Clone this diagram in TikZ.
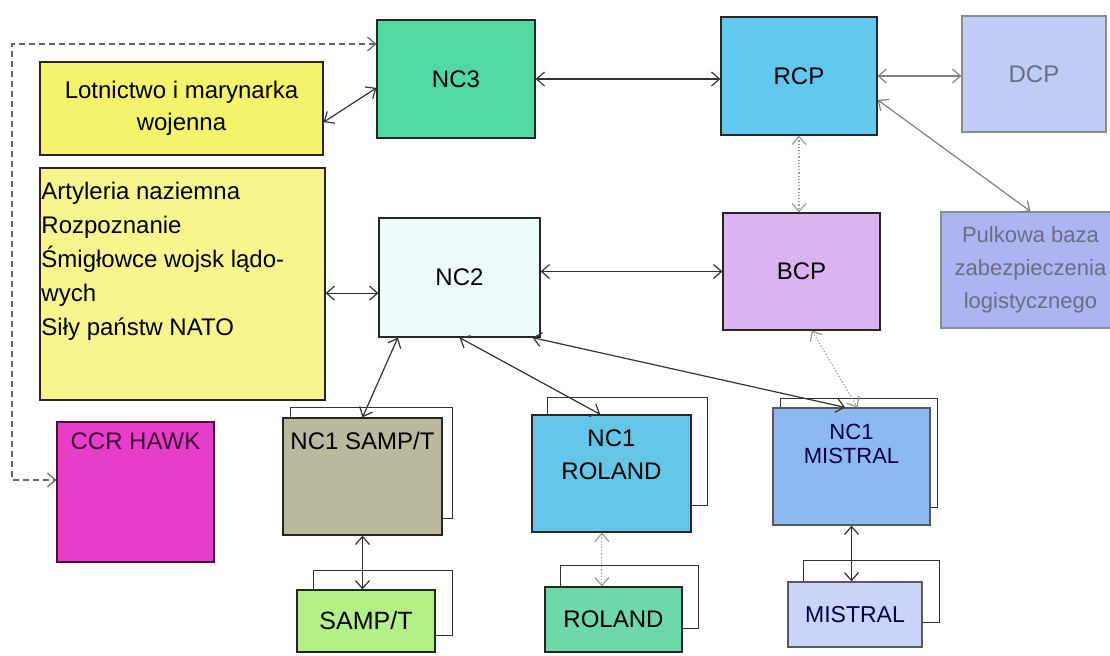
\documentclass[tikz,border=0pt]{standalone}
\usepackage{fontspec}
\setmainfont{Liberation Sans}
\usetikzlibrary{calc,arrows.meta}

\definecolor{lotfill}{HTML}{F5F26C}
\definecolor{artfill}{HTML}{F8F48E}
\definecolor{ncthree}{HTML}{52D8A2}
\definecolor{rcpfill}{HTML}{62C8F0}
\definecolor{dcpfill}{HTML}{BFCDF6}
\definecolor{pulkfill}{HTML}{AAB5F2}
\definecolor{bcpfill}{HTML}{D9B3F2}
\definecolor{nctwo}{HTML}{EEFBFD}
\definecolor{hawkfill}{HTML}{E63DCB}
\definecolor{sampfill}{HTML}{BAB99D}
\definecolor{rolfill}{HTML}{64C6E6}
\definecolor{misfill}{HTML}{8EB9F0}
\definecolor{sampbot}{HTML}{B3F088}
\definecolor{rolbot}{HTML}{6DD8A9}
\definecolor{misbot}{HTML}{CAD4F8}
\definecolor{fadetext}{HTML}{6C6C82}

\begin{document}
\begin{tikzpicture}[x=0.5pt,y=-0.5pt,
  font=\fontsize{12}{16}\selectfont,
  >={Straight Barb[length=4pt,width=7pt]},
  box/.style={draw=black!85, line width=0.6pt, inner sep=0pt, align=center},
  frame/.style={draw=black!80, line width=0.5pt, fill=white},
  link/.style={<->, draw=black!80, line width=0.6pt},
  greylink/.style={<->, draw=black!50, line width=0.6pt},
  dotlink/.style={<->, draw=black!40, line width=0.6pt, densely dotted}]
\useasboundingbox (0,0) rectangle (1110,655);
\clip (0,0) rectangle (1110,655);

% frames behind the NC1 and launcher boxes
\foreach \xa/\ya/\xb/\yb in {290/407/452/518, 547/397/707/505, 780/398/937/507,
                             313/570/452/635, 560/565/698/628, 803/560/939/622}
  \draw[frame] (\xa,\ya) rectangle (\xb,\yb);

% upper level
\node[box, fill=lotfill, minimum width=141.5pt, minimum height=46.5pt] (lot) at (181.5,108.5) {Lotnictwo i marynarka\\wojenna};
\node[box, fill=ncthree, minimum width=79pt, minimum height=59pt] (nc3) at (456,79) {NC3};
\node[box, fill=rcpfill, minimum width=78pt, minimum height=59pt] (rcp) at (799,76) {RCP};
\node[box, draw=black!45, fill=dcpfill, text=fadetext, minimum width=72pt, minimum height=58pt] (dcp) at (1034,74) {DCP};
\node[box, draw=black!45, fill=pulkfill, text=fadetext, minimum width=89.5pt, minimum height=58pt,
      font=\fontsize{11}{16.5}\selectfont] (pulk) at (1030.5,270) {Pulkowa baza\\zabezpieczenia\\logistycznego};

% middle level
\node[box, fill=artfill, minimum width=142.5pt, minimum height=116pt,
      label={[anchor=north west, align=left, xshift=-2.5pt, yshift=-3.75pt, font=\fontsize{12}{17}\selectfont]north west:Artyleria naziemna\\Rozpoznanie\\Śmigłowce wojsk lądo-\\wych\\Siły państw NATO}] (art) at (182.5,284) {};
\node[box, fill=nctwo, minimum width=80.5pt, minimum height=59.5pt] (nc2) at (459.5,277.5) {NC2};
\node[box, fill=bcpfill, minimum width=78.5pt, minimum height=58.5pt] (bcp) at (801.5,271.5) {BCP};

% lower level
\node[box, draw=black!70!hawkfill, fill=hawkfill, minimum width=78.5pt, minimum height=70pt,
      label={[anchor=north, text=black!75!hawkfill, yshift=-2pt]north:CCR HAWK}] (hawk) at (135.5,492) {};
\node[box, fill=sampfill, minimum width=79.5pt, minimum height=58.5pt,
      label={[anchor=north, yshift=-3.75pt]north:NC1 SAMP/T}] (nc1s) at (362.5,476.5) {};
\node[box, fill=rolfill, minimum width=79.5pt, minimum height=58.5pt,
      label={[anchor=north, align=center, yshift=-4.25pt, font=\fontsize{12}{16.5}\selectfont]north:NC1\\ROLAND}] (nc1r) at (611.5,473.5) {};
\node[box, draw=black!65, fill=misfill, minimum width=78.5pt, minimum height=58.5pt,
      label={[anchor=north, align=center, text=black!75!blue, yshift=-4.75pt, font=\fontsize{11}{12}\selectfont]north:NC1\\MISTRAL}] (nc1m) at (851.5,466.5) {};
\node[box, fill=sampbot, minimum width=69pt, minimum height=31pt, font=\fontsize{12.5}{15}\selectfont] (samp) at (366,621) {SAMP/T};
\node[box, fill=rolbot, minimum width=68.5pt, minimum height=32.5pt] (rol) at (613.5,619.5) {ROLAND};
\node[box, draw=black!65, fill=misbot, text=black!75!blue, minimum width=67pt, minimum height=32.5pt,
      font=\fontsize{11.5}{14}\selectfont] (mis) at (855,614.5) {MISTRAL};

% dashed loop NC3 -> CCR HAWK
\coordinate (d1) at (12,44);
\coordinate (d2) at (12,480);
\draw[<->, draw=black!60, line width=0.6pt, densely dashed] (d1 -| nc3.west) -- (d1) -- (d2) -- (d2 -| hawk.west);

\draw[link] ($(lot.east)!0.29!(lot.south east)$) -- ($(nc3.west)!0.15!(nc3.south west)$);
\draw[link] (nc3.east) -- (nc3.east -| rcp.west);
\draw[greylink] (rcp.east) -- (rcp.east -| dcp.west);
\draw[greylink] ($(rcp.east)!0.4!(rcp.south east)$) -- (pulk.north);
\draw[dotlink] (rcp.south) -- (rcp.south |- bcp.north);

\coordinate (a2) at ($(nc2.west)!0.26!(nc2.south west)$);
\draw[link] (a2 -| art.east) -- (a2);
\draw[link] (bcp.west -| nc2.east) -- (bcp.west);
\draw[link] ($(nc2.south west)!0.12!(nc2.south east)$) -- (nc1s.north);
\draw[link] (nc2.south) -- ($(nc1r.north west)!0.43!(nc1r.north east)$);
\draw[link] ($(nc2.south west)!0.95!(nc2.south east)$) -- ($(nc1m.north west)!0.46!(nc1m.north east)$);
\draw[dotlink] ($(bcp.south)!0.13!(bcp.south east)$) -- ($(nc1m.north)+(6,0)$);

\coordinate (r1) at ($(nc1r.south west)!0.44!(nc1r.south east)$);
\draw[link] (nc1s.south) -- (nc1s.south |- samp.north);
\draw[dotlink] (r1) -- (r1 |- rol.north);
\draw[link] (nc1m.south) -- (nc1m.south |- mis.north);
\end{tikzpicture}
\end{document}
